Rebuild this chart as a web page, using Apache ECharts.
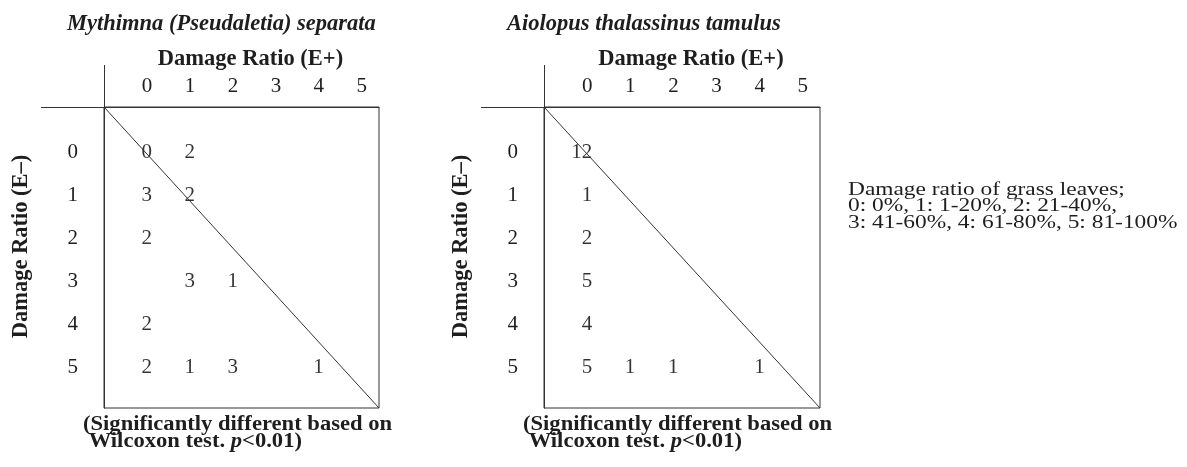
<!DOCTYPE html>
<html><head><meta charset="utf-8">
<script src="https://cdn.jsdelivr.net/npm/echarts@6/dist/echarts.min.js"></script>
<style>html,body{margin:0;padding:0;background:#fff}#c{width:1187px;height:467px}</style>
</head><body><div id="c"></div>
<script>
// ---- data ----
const damageLevels = [0, 1, 2, 3, 4, 5];
const panelTitles = ['Mythimna (Pseudaletia) separata', 'Aiolopus thalassinus tamulus'];
const xAxisName = 'Damage Ratio (E+)';
const yAxisName = 'Damage Ratio (E\u2013)';
// [E+ level, E- level, number of plants]
const mythimnaCounts = [[0,0,0],[1,0,2],[0,1,3],[1,1,2],[0,2,2],[1,3,3],[2,3,1],[0,4,2],[0,5,2],[1,5,1],[2,5,3],[4,5,1]];
const aiolopusCounts = [[0,0,12],[0,1,1],[0,2,2],[0,3,5],[0,4,4],[0,5,5],[1,5,1],[2,5,1],[4,5,1]];
const noteLines = ['Damage ratio of grass leaves;', '0: 0%, 1: 1-20%, 2: 21-40%,', '3: 41-60%, 4: 61-80%, 5: 81-100%'];
const testNote = ['(Significantly different based on', ' Wilcoxon test. ', 'p', '<0.01)'];

// ---- layout / style ----
const FONT = 'Liberation Serif';
const INK = '#1e1e1e';
const LINE = '#333';
const X_MIN = -1, X_MAX = 5.4, Y_MIN = -1.05, Y_MAX = 5.95;
const panels = [
  {left: 104, top: 107, width: 275, height: 301, data: mythimnaCounts},
  {left: 544, top: 107, width: 276, height: 301, data: aiolopusCounts}
];

const chart = echarts.init(document.getElementById('c'));
const option = {
  backgroundColor: '#fff',
  animation: false,
  title: [],
  grid: [], xAxis: [], yAxis: [], series: [], graphic: []
};

panels.forEach((p, i) => {
  option.grid.push({left: p.left, top: p.top, width: p.width, height: p.height,
    show: true, borderColor: LINE, borderWidth: 1, backgroundColor: 'transparent'});
  option.xAxis.push({
    type: 'value', gridIndex: i, position: 'top', min: X_MIN, max: X_MAX,
    name: xAxisName, nameLocation: 'middle', nameGap: 34,
    nameTextStyle: {fontFamily: FONT, fontWeight: 'bold', fontSize: 22.5, color: INK, padding: [0, 0, 0, 18]},
    axisLine: {show: true, onZero: false, lineStyle: {color: LINE, width: 1}},
    axisTick: {show: false}, splitLine: {show: false},
    axisLabel: {customValues: damageLevels, margin: 10, fontFamily: FONT, fontSize: 21, color: INK}
  });
  option.yAxis.push({
    type: 'value', gridIndex: i, inverse: true, min: Y_MIN, max: Y_MAX,
    name: yAxisName, nameLocation: 'middle', nameGap: 71, nameRotate: 90,
    nameTextStyle: {fontFamily: FONT, fontWeight: 'bold', fontSize: 22.5, color: INK, padding: [0, 0, 0, 22]},
    axisLine: {show: true, onZero: false, lineStyle: {color: LINE, width: 1}},
    axisTick: {show: false}, splitLine: {show: false},
    axisLabel: {customValues: damageLevels, margin: 26, fontFamily: FONT, fontSize: 21, color: INK}
  });
  // diagonal (E+ = E- reference) from corner to corner of the frame
  option.series.push({
    type: 'line', xAxisIndex: i, yAxisIndex: i, silent: true, symbol: 'none',
    lineStyle: {color: LINE, width: 1},
    data: [[X_MIN, Y_MIN], [X_MAX, Y_MAX]]
  });
  option.series.push({
    type: 'scatter', xAxisIndex: i, yAxisIndex: i, symbolSize: 0, silent: true,
    itemStyle: {color: '#000'},
    data: p.data,
    label: {show: true, position: 'inside', align: 'right', verticalAlign: 'middle', offset: [5, 0],
      formatter: d => String(d.value[2]), fontFamily: FONT, fontSize: 21, color: '#000',
      textBorderWidth: 0, textBorderColor: 'transparent'}
  });
  option.title.push({text: panelTitles[i], left: p.left - 42, top: 8,
    textStyle: {fontFamily: FONT, fontStyle: 'italic', fontWeight: 'bold', fontSize: 22.5, color: INK}});
  // significance note under each panel
  option.graphic.push({type: 'text', silent: true, x: p.left - 21, y: 416, scaleX: 1.13,
    style: {
      text: '{b|' + testNote[0] + '}\n{b|' + testNote[1] + '}{i|' + testNote[2] + '}{b|' + testNote[3] + '}',
      verticalAlign: 'top', fill: INK,
      rich: {
        b: {fontFamily: FONT, fontWeight: 'bold', fontSize: 20, fill: INK, lineHeight: 17},
        i: {fontFamily: FONT, fontWeight: 'bold', fontStyle: 'italic', fontSize: 20, fill: INK, lineHeight: 17}
      }
    }});
  // extended frame lines (top-left corner cross)
  option.graphic.push({type: 'line', silent: true,
    shape: {x1: p.left + 0.5, y1: 65, x2: p.left + 0.5, y2: p.top},
    style: {stroke: LINE, lineWidth: 1}});
  option.graphic.push({type: 'line', silent: true,
    shape: {x1: p.left - 63, y1: p.top + 0.5, x2: p.left, y2: p.top + 0.5},
    style: {stroke: LINE, lineWidth: 1}});
});

option.graphic.push({type: 'text', silent: true, x: 848, y: 182, scaleX: 1.3,
  style: {text: noteLines.join('\n'), verticalAlign: 'top', fill: INK,
    font: 'normal 18px "Liberation Serif"', lineHeight: 16.5}});

chart.setOption(option);
</script></body></html>
